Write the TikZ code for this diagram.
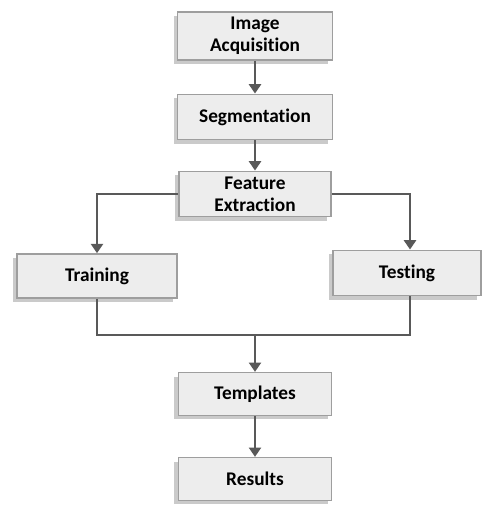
\documentclass[tikz,border=0pt]{standalone}
\usepackage{fontspec}
\setmainfont{Carlito}[Ligatures={NoCommon,NoContextual}]
\usetikzlibrary{positioning,shadows,arrows.meta,calc}

\begin{document}
\begin{tikzpicture}[x=0.75pt,y=-0.75pt]
  \tikzstyle{stage}=[rectangle,draw=black!38,line width=1.2pt,fill=black!7,
    align=center,inner sep=0pt,font=\bfseries\fontsize{14.5}{16.5}\selectfont,
    drop shadow={shadow xshift=-3pt,shadow yshift=-3pt,opacity=0.35,fill=black!60}]
  \tikzstyle{flow}=[draw=black!65,line width=2.2pt,-{Triangle[width=9pt,length=7pt]}]
  \tikzstyle{link}=[draw=black!65,line width=2.2pt]
  \useasboundingbox (0,0) rectangle (482,507);

  \node[stage,minimum width=116pt,minimum height=36pt] (acq) at (255,36) {Image\\Acquisition};
  \node[stage,minimum width=116pt,minimum height=34pt] (seg) at (255,117) {Segmentation};
  \node[stage,minimum width=114pt,minimum height=34pt] (feat) at (255,194) {Feature\\Extraction};
  \node[stage,minimum width=120pt,minimum height=33pt] (train) at (97,276) {Training};
  \node[stage,minimum width=111pt,minimum height=34pt] (test) at (407,273) {Testing};
  \node[stage,minimum width=115pt,minimum height=32pt] (templ) at (255,394) {Templates};
  \node[stage,minimum width=115pt,minimum height=32pt] (res) at (255,479) {Results};
  \coordinate (junc) at (255,335);

  \draw[flow] (acq) -- (seg);
  \draw[flow] (seg) -- (feat);
  \draw[flow] (feat.west) -| (train.north);
  \draw[flow] (feat.east) -| ($(test.north)+(3,0)$);
  \draw[link] (train.south) |- (junc) -| ($(test.south)+(3,0)$);
  \draw[flow] (junc) -- (templ.north);
  \draw[flow] (templ) -- (res);
\end{tikzpicture}
\end{document}
